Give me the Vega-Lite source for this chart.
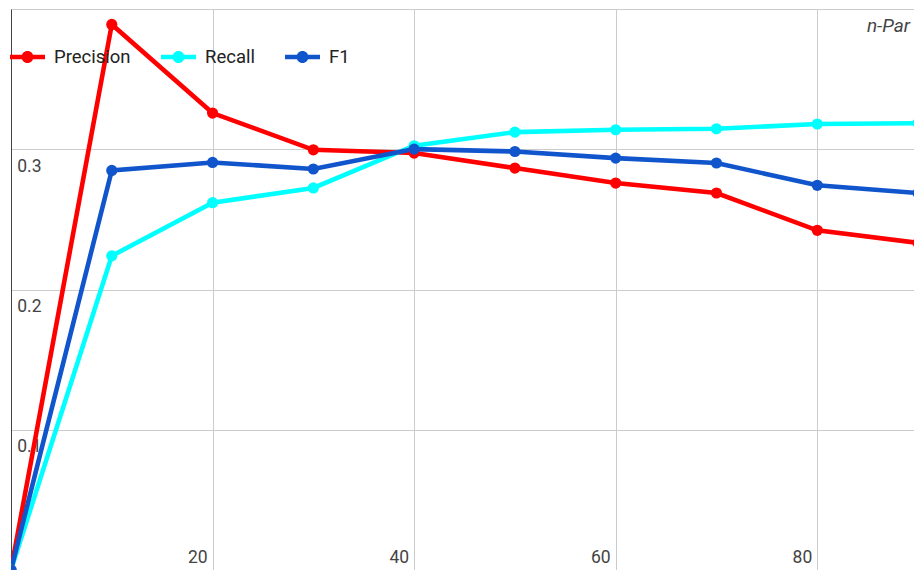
{
  "$schema": "https://vega.github.io/schema/vega-lite/v6.json",
  "width": 903,
  "height": 561,
  "autosize": {"type": "none"},
  "padding": {"left": 11, "top": 9, "right": 0, "bottom": 0},
  "background": "white",
  "title": {"text": "n-Par", "anchor": "end", "frame": "group", "orient": "top", "offset": -42, "fontStyle": "italic", "fontWeight": "normal", "fontSize": 19, "color": "#444444", "font": "Roboto", "dx": -4, "baseline": "alphabetic"},
  "config": {"view": {"stroke": null}},
  "data": {"values": [
    {"x": 0, "series": "Precision", "value": 0},
    {"x": 10, "series": "Precision", "value": 0.389},
    {"x": 20, "series": "Precision", "value": 0.3258},
    {"x": 30, "series": "Precision", "value": 0.2996},
    {"x": 40, "series": "Precision", "value": 0.2973},
    {"x": 50, "series": "Precision", "value": 0.2866},
    {"x": 60, "series": "Precision", "value": 0.2759},
    {"x": 70, "series": "Precision", "value": 0.2688},
    {"x": 80, "series": "Precision", "value": 0.2422},
    {"x": 90, "series": "Precision", "value": 0.2332},
    {"x": 0, "series": "Recall", "value": 0},
    {"x": 10, "series": "Recall", "value": 0.2240},
    {"x": 20, "series": "Recall", "value": 0.2619},
    {"x": 30, "series": "Recall", "value": 0.2724},
    {"x": 40, "series": "Recall", "value": 0.3025},
    {"x": 50, "series": "Recall", "value": 0.3122},
    {"x": 60, "series": "Recall", "value": 0.3139},
    {"x": 70, "series": "Recall", "value": 0.3146},
    {"x": 80, "series": "Recall", "value": 0.3180},
    {"x": 90, "series": "Recall", "value": 0.3186},
    {"x": 0, "series": "F1", "value": 0},
    {"x": 10, "series": "F1", "value": 0.2849},
    {"x": 20, "series": "F1", "value": 0.2906},
    {"x": 30, "series": "F1", "value": 0.2859},
    {"x": 40, "series": "F1", "value": 0.3001},
    {"x": 50, "series": "F1", "value": 0.2984},
    {"x": 60, "series": "F1", "value": 0.2937},
    {"x": 70, "series": "F1", "value": 0.2902},
    {"x": 80, "series": "F1", "value": 0.2743},
    {"x": 90, "series": "F1", "value": 0.2688}
  ]},
  "encoding": {
    "x": {
      "field": "x", "type": "quantitative",
      "scale": {"domain": [0, 89.6], "nice": false, "zero": false},
      "axis": {
        "values": [0, 20, 40, 60, 80], "title": null,
        "grid": true, "gridColor": "#cccccc", "gridWidth": 1,
        "domain": true, "domainColor": "#444444", "domainWidth": 1,
        "ticks": false, "tickSize": 0,
        "labelAlign": "right", "labelBaseline": "alphabetic",
        "labelPadding": -8, "labelOffset": -5.5,
        "labelExpr": "datum.value == 0 ? '' : datum.label",
        "labelFont": "Roboto", "labelFontSize": 17.5, "labelColor": "#444444",
        "labelFlush": false, "labelOverlap": false
      }
    },
    "y": {
      "field": "value", "type": "quantitative",
      "scale": {"domain": [0, 0.4], "nice": false},
      "axis": {
        "values": [0, 0.1, 0.2, 0.3, 0.4], "title": null, "format": ".1f",
        "grid": true, "gridColor": "#cccccc", "gridWidth": 1,
        "domain": true, "domainColor": "#444444", "domainWidth": 1,
        "ticks": false, "tickSize": 0,
        "labelAlign": "left", "labelBaseline": "alphabetic",
        "labelPadding": -5.7, "labelOffset": 22,
        "labelExpr": "(datum.value == 0 || datum.value > 0.35) ? '' : datum.label",
        "labelFont": "Roboto", "labelFontSize": 17.5, "labelColor": "#444444",
        "labelFlush": false, "labelOverlap": false
      }
    }
  },
  "layer": [
    {
      "mark": {"type": "line", "strokeWidth": 4.6, "clip": true},
      "encoding": {
        "color": {"field": "series", "type": "nominal",
          "scale": {"domain": ["F1", "Precision", "Recall"], "range": ["#1155cc", "#ff0000", "#00ffff"]},
          "legend": null}
      }
    },
    {
      "mark": {"type": "point", "filled": true, "size": 125, "opacity": 1, "strokeWidth": 0, "clip": true},
      "encoding": {
        "fill": {"field": "series", "type": "nominal",
          "scale": {"domain": ["Precision", "Recall", "F1"], "range": ["#ff0000", "#00ffff", "#1155cc"]},
          "legend": {
            "orient": "none", "legendX": -1, "legendY": 30.5,
            "direction": "horizontal", "title": null, "padding": 0,
            "symbolType": "M-1,-0.13 L1,-0.13 L1,0.13 L-1,0.13 Z M-0.343,0 A0.343,0.343 0 1,1 0.343,0 A0.343,0.343 0 1,1 -0.343,0 Z",
            "symbolSize": 1225, "symbolStrokeWidth": 0, "symbolOpacity": 1,
            "labelFont": "Roboto", "labelFontSize": 18.5, "labelColor": "#222222",
            "labelOffset": 9, "columnPadding": 30
          }
        }
      }
    }
  ]
}
